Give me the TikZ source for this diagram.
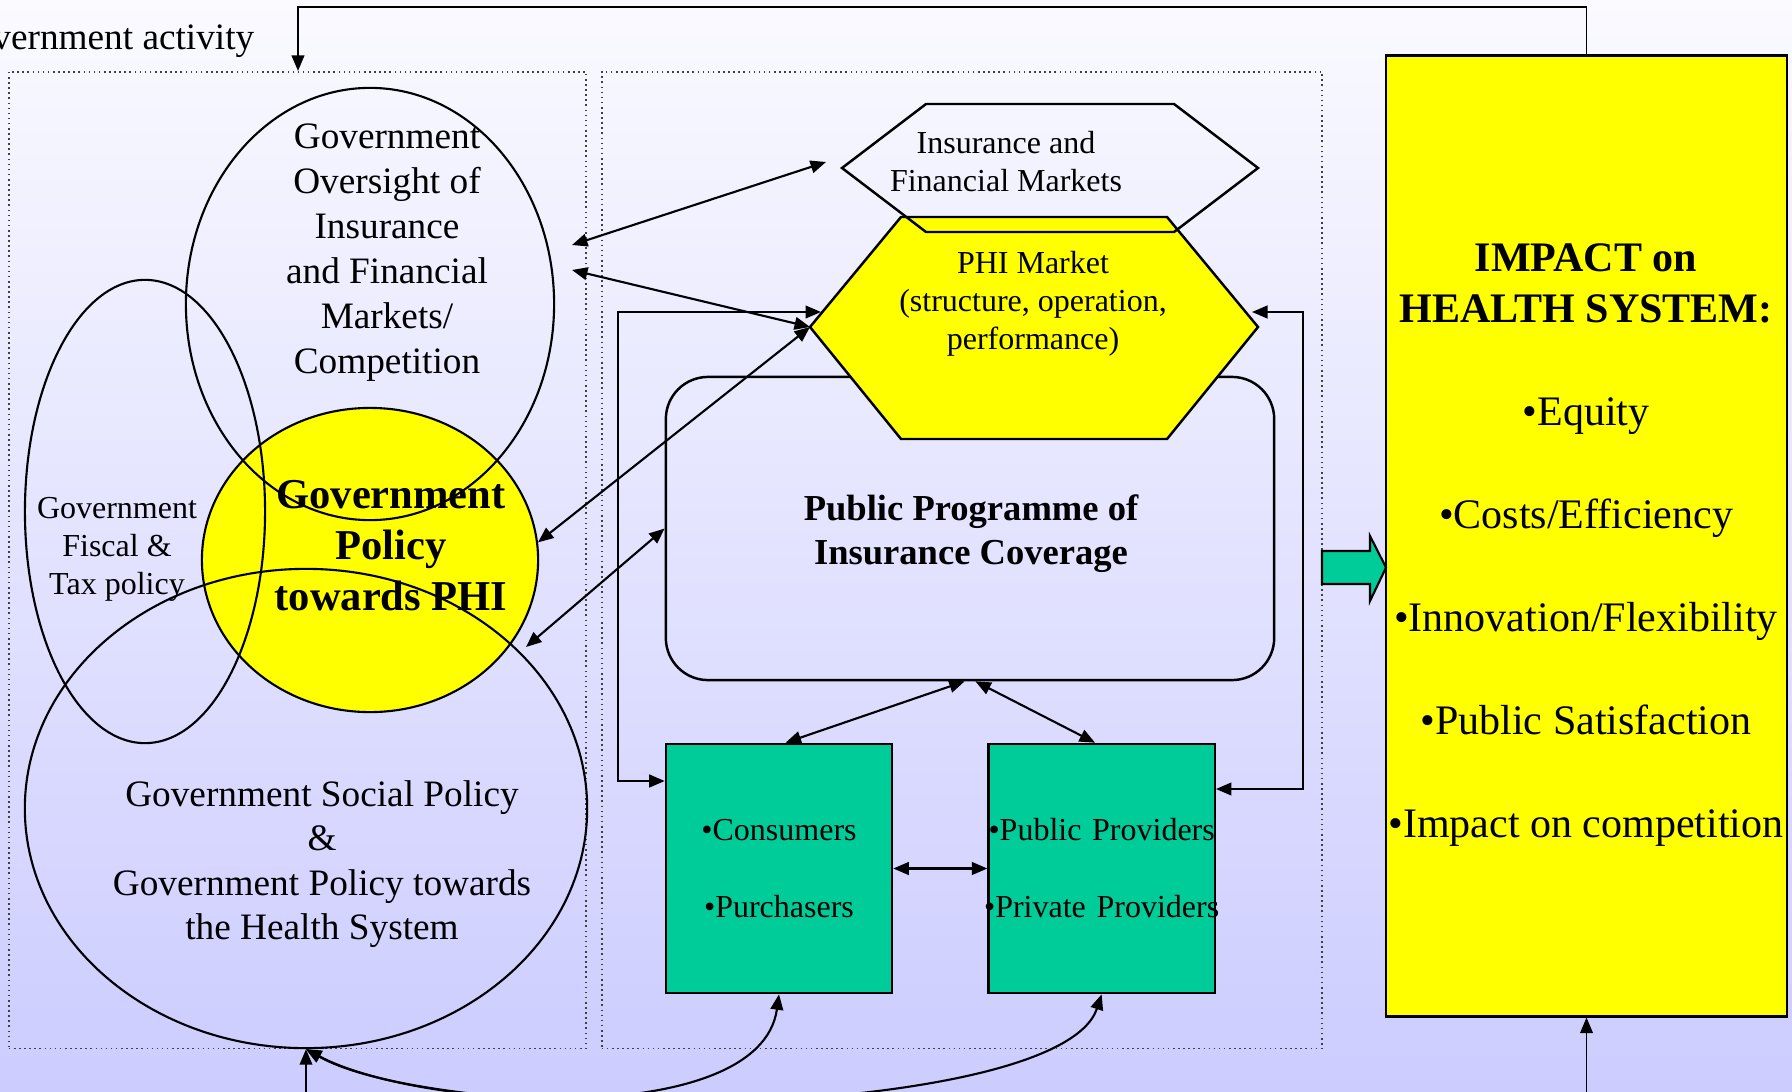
\documentclass[tikz,border=0pt]{standalone}
\usepackage{fontspec}
\setmainfont{Liberation Serif}
\usepackage{tikz}
\usetikzlibrary{positioning}
\usetikzlibrary{shapes.geometric}
\usetikzlibrary{arrows.meta}

\definecolor{bgtop}{RGB}{250,250,255}
\definecolor{bgbot}{RGB}{204,204,255}
\definecolor{phiyel}{RGB}{255,255,0}
\definecolor{actgrn}{RGB}{0,204,153}

\begin{document}
\begin{tikzpicture}[x=0.01cm, y=-0.01cm, >={Triangle[length=4.4pt,width=3.6pt]},
  venn/.style={draw, ellipse, inner sep=0pt, line width=.6pt},
  dotbox/.style={draw=black!75, densely dotted, line width=.45pt, inner sep=0pt, minimum height=9.76cm},
  actor/.style={draw, fill=actgrn, line width=.7pt, inner sep=0pt, minimum width=2.26cm, minimum height=2.49cm, text width=2.26cm, align=center, font=\fontsize{9.1}{21.9}\selectfont},
  link/.style={<->, line width=.6pt}]

\useasboundingbox (0,0) rectangle (1792,1091);
\clip (0,0) rectangle (1792,1091);
\shade [top color=bgtop, bottom color=bgbot] (0,0) rectangle (1792,1091);

% dotted frames
\node (govbox) [dotbox, minimum width=5.77cm] at (297.5,560) {};
\node (mktbox) [dotbox, minimum width=7.2cm] at (962,560) {};

\node (govact) [anchor=base east, inner sep=0pt, font=\fontsize{10.6}{12.8}\selectfont] at (255,50) {Government activity};

% policy circles
\node (phipol) [venn, fill=phiyel, minimum width=3.36cm, minimum height=3.04cm] at (370,560) {};
\node (oversight) [venn, minimum width=3.68cm, minimum height=4.32cm] at (370,304) {};
\node (fiscal) [venn, minimum width=2.40cm, minimum height=4.63cm] at (145,511.5) {};
\node (social) [venn, minimum width=5.62cm, minimum height=4.79cm] at (306,808.5) {};

\node (oversight_txt) [align=center, font=\fontsize{10.6}{12.8}\selectfont] at (387,253) {Government\\Oversight of\\Insurance\\and Financial\\Markets/\\Competition};
\node (fiscal_txt) [align=center, font=\fontsize{9.1}{10.8}\selectfont] at (117,549.5) {Government\\Fiscal \&\\Tax policy};
\node (phipol_txt) [align=center, font=\bfseries\fontsize{12.1}{14.5}\selectfont] at (391,546) {Government\\Policy\\towards PHI};
\node (social_txt) [align=center, font=\fontsize{10.6}{12.66}\selectfont] at (322,864) {Government Social Policy\\\&\\Government Policy towards\\the Health System};

% markets
\node (pubprog) [draw, rounded corners=12pt, line width=.7pt, minimum width=6.08cm, minimum height=3.03cm] at (970,528.5) {};
\node (pubprog_txt) [align=center, font=\bfseries\fontsize{10.4}{12.5}\selectfont] at (971,533.5) {Public Programme of\\Insurance Coverage};

\coordinate (phimkt_w) at (810,327);
\coordinate (phimkt_e) at (1258,327);
\draw [fill=phiyel, line width=.7pt] (phimkt_w) -- (901,217) -- (1167,217) -- (phimkt_e) -- (1167,439) -- (901,439) -- cycle;
\node (phimkt) [align=center, font=\fontsize{9.1}{10.8}\selectfont] at (1033,304) {PHI Market\\(structure, operation,\\performance)};

\coordinate (insmkt_w) at (842,168);
\draw [line width=.7pt] (insmkt_w) -- (926,104) -- (1174,104) -- (1258,168) -- (1174,232) -- (926,232) -- cycle;
\node (insmkt) [align=center, font=\fontsize{9.1}{10.8}\selectfont] at (1006,161.5) {Insurance and\\Financial Markets};

% consumers and providers
\node (cons) [actor] at (779,868.5) {•Consumers\\•Purchasers};
\node (prov) [actor, right=.94cm of cons] {\makebox[2.26cm]{•Public Providers}\\\makebox[2.26cm]{•Private Providers}};

% impact
\node (impact) [draw, fill=phiyel, line width=.7pt, minimum width=4.01cm, minimum height=9.6cm] at (1586.5,536) {};
\node (impact_txt) [align=center, font=\fontsize{11.95}{29.3}\selectfont] at (1586,545) {\textbf{IMPACT on}\\[-14.8pt]\textbf{HEALTH SYSTEM:}\\•Equity\\•Costs/Efficiency\\•Innovation/Flexibility\\•Public Satisfaction\\•Impact on competition};

\draw [fill=actgrn, line width=.6pt] (1322,551) -- (1370,551) -- (1370,536) -- (1386,567.5) -- (1370,601) -- (1370,584) -- (1322,584) -- cycle;

% feedback on top
\coordinate (topbend) at (298,7);
\draw [->, line width=.5pt] (impact.north) |- (topbend) -- (topbend |- govbox.north);

% policy links
\coordinate (ov_a) at (572,245);
\coordinate (ov_b) at (572,270);
\coordinate (insmkt_a) at (826,162);
\coordinate (phipol_a) at (526,647);
\draw [link] (ov_a) -- (insmkt_a);
\draw [link] (ov_b) -- (phimkt_w);
\draw [link] (phimkt_w) -- (phipol.6);
\draw [link] (pubprog.west) -- (phipol_a);

% loops round the programme
\coordinate (phimkt_lo) at (821,312);
\coordinate (phimkt_ro) at (1252,312);
\coordinate (lloop) at (618,312);
\coordinate (rloop) at (1303,312);
\draw [link] (phimkt_lo) -- (lloop) |- (cons.west |- 0,781);
\draw [link] (phimkt_ro) -- (rloop) |- (prov.east |- 0,789);

\draw [link] (pubprog.-92) -- (cons.87);
\draw [link] (pubprog.-88) -- (prov.93);
\draw [link] (cons.east) -- (prov.west);

% bottom
\coordinate (socin) at (306,1100);
\coordinate (impin) at (1586.5,1100);
\draw [->, line width=.4pt] (socin) -- (social.south);
\draw [link] (social.south) .. controls (420,1110) and (760,1130) .. (cons.south);
\draw [link] (social.south) .. controls (450,1130) and (1060,1120) .. (prov.south);
\draw [->, line width=.4pt] (impin) -- (impact.south);
\end{tikzpicture}
\end{document}
